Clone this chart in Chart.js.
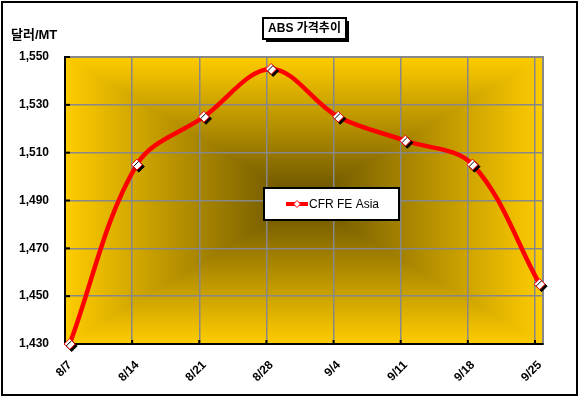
<!DOCTYPE html>
<html><head><meta charset="utf-8">
<script src="https://cdn.jsdelivr.net/npm/chart.js@4"></script>
<style>html,body{margin:0;padding:0;background:#fff;}#wrap{position:relative;width:579px;height:397px;}</style>
</head><body><div id="wrap"><canvas id="c" width="579" height="397"></canvas></div>
<script>
const categories = ['8/7','8/14','8/21','8/28','9/4','9/11','9/18','9/25'];
const cfrFeAsia = [1430,1505,1525,1545,1525,1515,1505,1455];
const yTicks = [1430,1450,1470,1490,1510,1530,1550];
const seriesName = 'CFR FE Asia';
const chartTitle = 'ABS 가격추이';
const yAxisTitle = '달러/MT';

const pts = cfrFeAsia.map((v,i)=>({x:i,y:v}));
const SHIFT = 0.07;
const FONT = '"Liberation Sans", Arial, "Noto Sans CJK KR", sans-serif';

const deco = {
  id:'deco',
  beforeDraw(chart){
    const ctx = chart.ctx, a = chart.chartArea;
    ctx.save();
    ctx.fillStyle = '#fff';
    ctx.fillRect(0,0,chart.width,chart.height);
    const L=Math.round(a.left), T=Math.round(a.top), W=Math.round(a.right)-L, H=Math.round(a.bottom)-T;
    const img = ctx.createImageData(W,H);
    const cx=W/2, cy=H/2;
    const c0=[255,204,0], c1=[100,78,0];
    for(let y=0;y<H;y++){for(let x=0;x<W;x++){
      const t = Math.max(Math.abs(x+0.5-cx)/cx, Math.abs(y+0.5-cy)/cy);
      const k=(y*W+x)*4;
      for(let j=0;j<3;j++) img.data[k+j]=Math.round(c1[j]+(c0[j]-c1[j])*t);
      img.data[k+3]=255;
    }}
    ctx.putImageData(img,L,T);
    ctx.strokeStyle='#888'; ctx.lineWidth=2;
    ctx.strokeRect(a.left,a.top,a.right-a.left,a.bottom-a.top);
    ctx.restore();
  },
  beforeDatasetsDraw(chart){
    const ctx=chart.ctx, a=chart.chartArea;
    ctx.save(); ctx.strokeStyle='#000'; ctx.lineWidth=2;
    chart.scales.y.ticks.forEach(t=>{const y=chart.scales.y.getPixelForValue(t.value);ctx.beginPath();ctx.moveTo(a.left,y);ctx.lineTo(a.left+5,y);ctx.stroke();});
    chart.scales.x.ticks.forEach(t=>{const x=chart.scales.x.getPixelForValue(t.value);ctx.beginPath();ctx.moveTo(x,a.bottom);ctx.lineTo(x,a.bottom-4);ctx.stroke();});
    ctx.restore();
  },
  beforeDatasetDraw(chart,args){
    if(args.index===1){const ctx=chart.ctx;ctx.shadowColor='#000';ctx.shadowOffsetX=2;ctx.shadowOffsetY=2;ctx.shadowBlur=0;}
  },
  afterDatasetDraw(chart,args){
    const ctx=chart.ctx;ctx.shadowColor='rgba(0,0,0,0)';ctx.shadowOffsetX=0;ctx.shadowOffsetY=0;
  },
  afterDraw(chart){
    const ctx=chart.ctx;
    ctx.save();
    // legend
    ctx.fillStyle='#fff'; ctx.fillRect(264,188,135,32);
    ctx.strokeStyle='#000'; ctx.lineWidth=2; ctx.strokeRect(264,188,135,32);
    ctx.strokeStyle='#ff0000'; ctx.lineWidth=4; ctx.beginPath(); ctx.moveTo(286,204); ctx.lineTo(308,204); ctx.stroke();
    ctx.fillStyle='#fff'; ctx.strokeStyle='#ff0000'; ctx.lineWidth=1;
    ctx.beginPath(); ctx.moveTo(297,200.5); ctx.lineTo(300.5,204); ctx.lineTo(297,207.5); ctx.lineTo(293.5,204); ctx.closePath(); ctx.fill(); ctx.stroke();
    ctx.fillStyle='#000'; ctx.font='12px '+FONT; ctx.textBaseline='middle'; ctx.textAlign='left';
    ctx.fillText(chart.data.datasets[0].label,309,205);
    // title
    ctx.fillStyle='#000'; ctx.fillRect(266,21,83,21);
    ctx.fillStyle='#fff'; ctx.fillRect(263,18,83,21);
    ctx.strokeStyle='#000'; ctx.lineWidth=2; ctx.strokeRect(263,18,83,21);
    ctx.fillStyle='#000'; ctx.font='bold 12px '+FONT; ctx.textAlign='center';
    ctx.fillText(chartTitle,304.5,29);
    // y axis title
    ctx.font='bold 13px '+FONT;
    ctx.textAlign='left'; ctx.fillText(yAxisTitle,11,35);
    // outer border
    ctx.lineWidth=2; ctx.strokeRect(2,2,575,393);
    ctx.restore();
  }
};

new Chart(document.getElementById('c'),{
  type:'line',
  data:{datasets:[
    {label:seriesName,data:pts,borderColor:'#ff0000',borderWidth:4.5,pointRadius:0,tension:0.35,fill:false,order:1},
    {label:seriesName,data:pts,showLine:false,clip:false,pointStyle:'rectRot',pointRadius:5.5,pointBackgroundColor:'#fff',pointBorderColor:'#ff0000',pointBorderWidth:1,order:0}
  ]},
  options:{
    responsive:false,animation:false,devicePixelRatio:1,
    layout:{padding:{top:57,right:36,left:0,bottom:0}},
    plugins:{legend:{display:false},tooltip:{enabled:false},title:{display:false}},
    scales:{
      x:{type:'linear',min:-SHIFT,max:7.05,
        afterBuildTicks:s=>{s.ticks=categories.map((c,i)=>({value:i-SHIFT}));},
        afterFit:s=>{s.height=53;},
        grid:{color:'#888',lineWidth:1.5,drawTicks:false},
        border:{color:'#000',width:2},
        ticks:{autoSkip:false,minRotation:45,maxRotation:45,labelOffset:5,padding:14,color:'#000',font:{family:FONT,size:12,weight:'bold'},
          callback:(v,i)=>categories[i]}
      },
      y:{min:1430,max:1550,
        afterBuildTicks:s=>{s.ticks=yTicks.map(v=>({value:v}));},
        afterFit:s=>{s.width=65;},
        grid:{color:'#888',lineWidth:1.5,drawTicks:false},
        border:{color:'#000',width:2},
        ticks:{padding:16,color:'#000',font:{family:FONT,size:12,weight:'bold'},callback:v=>v.toLocaleString('en-US')}
      }
    }
  },
  plugins:[deco]
});
</script></body></html>
